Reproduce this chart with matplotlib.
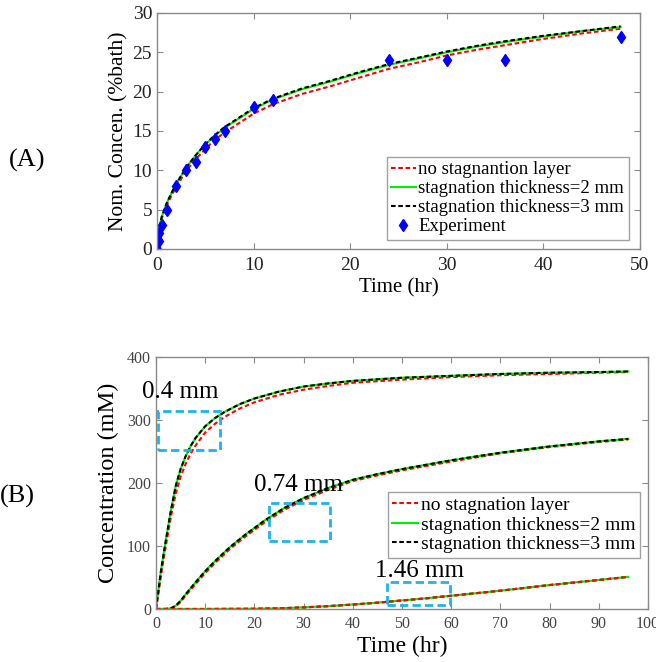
import matplotlib
matplotlib.use("Agg")
import matplotlib.pyplot as plt
from matplotlib.patches import Rectangle

plt.rcParams['font.family'] = ['Liberation Serif', 'DejaVu Serif']

# ---- (A) release vs time, 48 h ----
t_a = [0, 0.1, 0.25, 0.5, 1, 1.5, 2, 3, 4, 5, 6, 7, 8, 10, 12, 15, 18, 21, 24, 27, 30, 33, 36, 40, 44, 48]
c_a_none = [0, 1.7, 2.7, 3.9, 5.5, 6.8, 7.9, 9.9, 11.4, 12.7, 13.9, 14.8, 15.6, 17.2, 18.4, 19.7,
            20.7, 21.8, 22.9, 23.7, 24.6, 25.3, 25.9, 26.7, 27.4, 28.0]
c_a_2mm = [0, 1.8, 2.9, 4.1, 5.8, 7.1, 8.3, 10.3, 11.9, 13.3, 14.4, 15.4, 16.2, 17.8, 19.0, 20.3,
           21.3, 22.4, 23.4, 24.2, 25.0, 25.7, 26.3, 27.0, 27.7, 28.2]
c_a_3mm = [0, 1.8, 2.9, 4.1, 5.8, 7.1, 8.3, 10.3, 11.9, 13.3, 14.5, 15.5, 16.3, 17.9, 19.1, 20.4,
           21.4, 22.5, 23.5, 24.3, 25.1, 25.8, 26.4, 27.1, 27.7, 28.3]
t_exp = [0, 0.17, 0.25, 0.5, 1, 2, 3, 4, 5, 6, 7, 10, 12, 24, 30, 36, 48]
c_exp = [0, 1, 2, 3, 5, 8, 10, 11, 13, 14, 15, 18, 19, 24, 24, 24, 27]

# ---- (B) concentration for three tissue thicknesses, 96 h ----
t_04 = [0, 0.5, 1, 1.5, 2, 3, 4, 5, 6, 7, 8, 10, 12, 14, 17, 20, 25, 30, 35, 40, 50, 60, 70, 80, 90, 96]
c_04_none = [0, 25, 52, 77, 100, 145, 183, 210, 230, 246, 259, 280, 294, 305, 318, 328, 340, 348,
             354, 359, 364, 368, 371, 373, 375, 376]
c_04_layer = [0, 30, 60, 85, 109, 155, 195, 222, 242, 258, 271, 290, 303, 313, 325, 334, 345, 353,
              358, 362, 367, 370, 373, 375, 376, 377]

t_074 = [0, 2, 3, 4, 5, 6, 8, 10, 12, 15, 18, 22, 26, 30, 35, 40, 45, 50, 60, 70, 80, 90, 96]
c_074_none = [0, 0, 1, 4, 11, 21, 39, 57, 73, 95, 114, 137, 157, 173, 189, 203, 212, 220, 234,
              247, 257, 265, 269]
c_074_layer = [0, 0, 1, 5, 13, 23, 42, 60, 76, 98, 117, 140, 160, 176, 192, 205, 214, 222, 236,
               248, 258, 266, 270]

t_146 = [0, 10, 20, 25, 30, 35, 40, 45, 50, 55, 60, 70, 80, 90, 96]
c_146 = [0, 0, 0.3, 1, 2.5, 4.5, 7, 10, 13.5, 17, 21, 29, 38, 46, 51]

thickness_labels = ['0.4 mm', '0.74 mm', '1.46 mm']
label_xy = [(4.9, 344), (28.9, 197), (53.5, 60)]
# boxes marking the region of interest on each curve: (x0, y0, width, height)
boxes = [(0.5, 253, 12.5, 62), (23, 108, 12.3, 60), (47, 6, 12.7, 37)]

legend_a = ['no stagnantion layer', 'stagnation thickness=2 mm', 'stagnation thickness=3 mm', 'Experiment']
legend_b = ['no stagnation layer', 'stagnation thickness=2 mm', 'stagnation thickness=3 mm']

spine_col = '#8a8a8a'
red_style = dict(color='red', linestyle=(0, (2.2, 1.3)), linewidth=1.5)
green_style = dict(color='#00ee00', linestyle='-', linewidth=1.5)
black_style = dict(color='black', linestyle=(0, (2.2, 1.3)), linewidth=1.5)


def style_axes(ax, tick_size, tick_color):
    for s in ax.spines.values():
        s.set_color(spine_col)
        s.set_linewidth(1.0)
    ax.tick_params(direction='in', top=True, right=True, length=4, color=spine_col,
                   labelsize=tick_size, labelcolor=tick_color)


fig = plt.figure(figsize=(6.56, 6.62), dpi=100)

axA = fig.add_axes([0.2393, 0.6239, 0.7363, 0.3565])
axA.plot(t_a, c_a_none, label=legend_a[0], **red_style)
axA.plot(t_a, c_a_2mm, label=legend_a[1], **green_style)
axA.plot(t_a, c_a_3mm, label=legend_a[2], **black_style)
axA.plot(t_exp, c_exp, 'd', color='#0000ff', markersize=6, label=legend_a[3])
axA.set_xlim(0, 50)
axA.set_ylim(0, 30)
axA.set_xticks(range(0, 51, 10))
axA.set_yticks(range(0, 31, 5))
style_axes(axA, 14, '#222222')
axA.tick_params(axis='x', pad=6)
axA.set_xlabel('Time (hr)', fontsize=15, labelpad=3)
axA.set_ylabel('Nom. Concen. (%bath)', fontsize=15.5, labelpad=3)
legA = axA.legend(loc='lower right', bbox_to_anchor=(0.977, 0.038), borderaxespad=0,
                  fontsize=13.5, frameon=True, fancybox=False, edgecolor=spine_col,
                  handlelength=1.3, handletextpad=0.15, labelspacing=0.1, borderpad=0.25)
legA.get_frame().set_linewidth(1.0)
fig.text(27 / 656, 1 - 160 / 662, '(A)', fontsize=19, ha='center', va='center')

axB = fig.add_axes([0.2378, 0.0801, 0.75, 0.3807])
for k, (t, none, layer) in enumerate([(t_04, c_04_none, c_04_layer),
                                      (t_074, c_074_none, c_074_layer)]):
    axB.plot(t, none, label=legend_b[0] if k == 0 else None, **red_style)
    axB.plot(t, layer, label=legend_b[1] if k == 0 else None, **green_style)
    axB.plot(t, layer, label=legend_b[2] if k == 0 else None, **black_style)
# thickest tissue: the three cases coincide, red drawn last
axB.plot(t_146, c_146, **black_style)
axB.plot(t_146, c_146, **green_style)
axB.plot(t_146, c_146, **red_style)

for (x0, y0, w, h) in boxes:
    axB.add_patch(Rectangle((x0, y0), w, h, fill=False, edgecolor='#1cb4ec',
                            linestyle=(0, (3, 1.5)), linewidth=2, zorder=5))
for txt, (x, y) in zip(thickness_labels, label_xy):
    axB.text(x, y, txt, fontsize=18, ha='center', va='center', zorder=6)

axB.set_xlim(0, 100)
axB.set_ylim(0, 400)
axB.set_xticks(range(0, 101, 10))
axB.set_yticks(range(0, 401, 100))
style_axes(axB, 11.5, '#444444')
axB.tick_params(axis='x', pad=5)
axB.set_xlabel('Time (hr)', fontsize=17, labelpad=3)
axB.set_ylabel('Concentration (mM)', fontsize=17.5, labelpad=6)
legB = axB.legend(loc='lower right', bbox_to_anchor=(0.984, 0.202), borderaxespad=0,
                  fontsize=14, frameon=True, fancybox=False, edgecolor=spine_col,
                  handlelength=1.3, handletextpad=0.15, labelspacing=0.1, borderpad=0.25)
legB.get_frame().set_linewidth(1.0)
fig.text(17 / 656, 1 - 496 / 662, '(B)', fontsize=19, ha='center', va='center')

fig.savefig('out.png', dpi=100)
